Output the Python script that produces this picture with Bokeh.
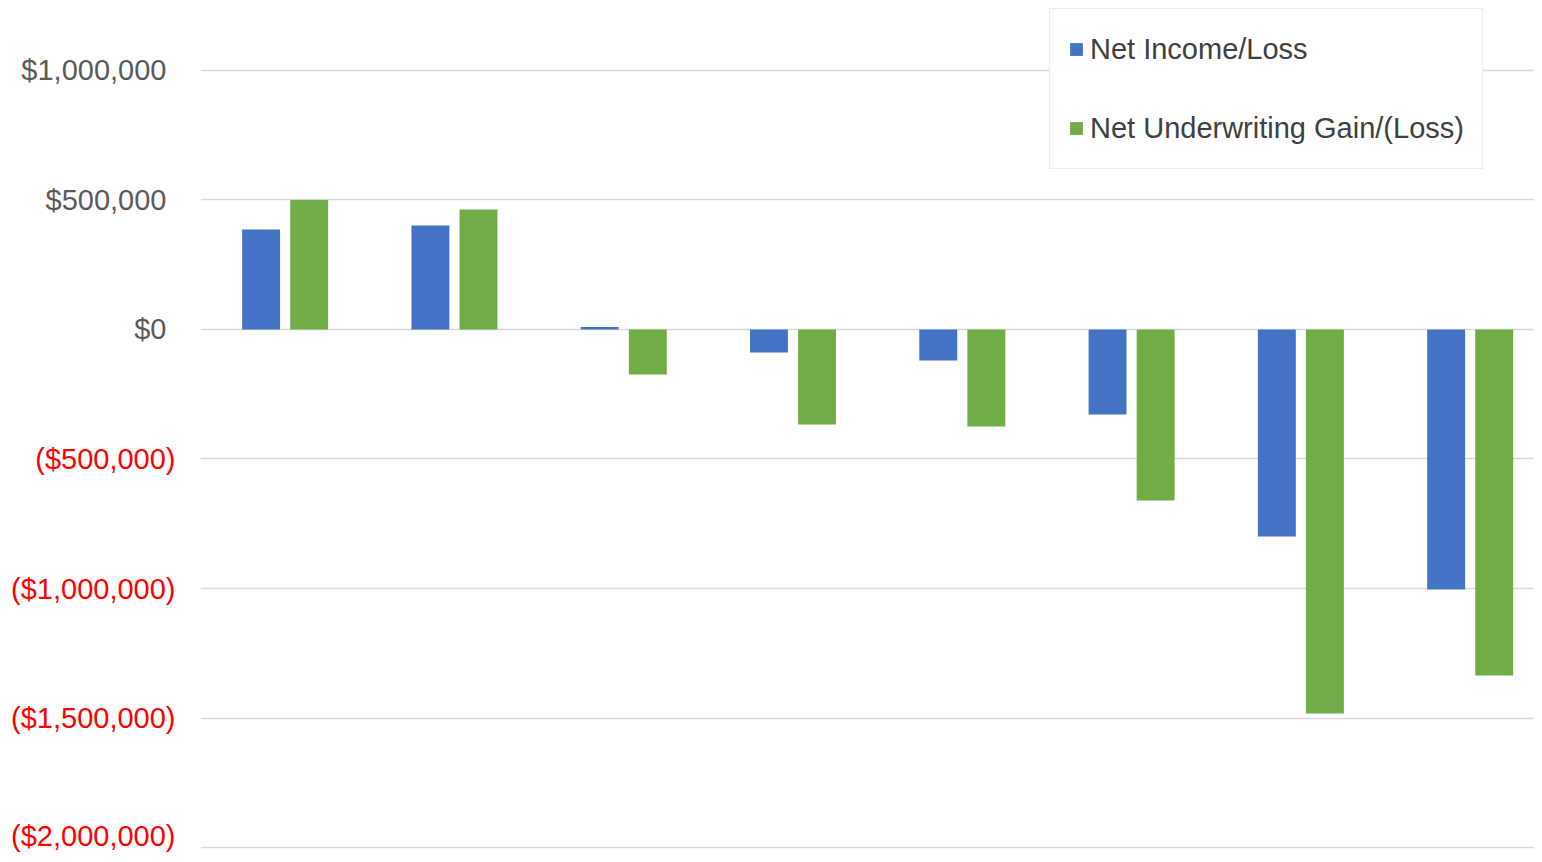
from bokeh.plotting import figure
from bokeh.layouts import row
from bokeh.models import (ColumnDataSource, Range1d, FixedTicker,
                          Legend, LegendItem)
from bokeh.transform import dodge
from bokeh.embed import file_html
from bokeh.resources import INLINE
from bokeh.core.properties import value

# ---- data ----
categories = ["1", "2", "3", "4", "5", "6", "7", "8"]
net_income = [386000, 402000, 10000, -89000, -120000, -328000, -799000, -1004000]
net_underwriting = [500000, 463000, -174000, -367000, -375000, -660000, -1483000, -1336000]
tick_values = [1000000, 500000, 0, -500000, -1000000, -1500000, -2000000]
tick_labels = ["$1,000,000", "$500,000", "$0", "($500,000)", "($1,000,000)",
               "($1,500,000)", "($2,000,000)"]
series_names = ["Net Income/Loss", "Net Underwriting Gain/(Loss)"]

FONT = "Liberation Sans"
FS = "29px"
H = 854
AXIS_W = 200

y_range = Range1d(-2027027, 1270270)

# ---- main chart ----
xpos = [i + 0.5 for i in range(len(categories))]
src = ColumnDataSource(dict(x=xpos, cat=categories, ni=net_income, nu=net_underwriting))

p = figure(width=1534 - AXIS_W, height=H,
           x_range=Range1d(0, 7.88), y_range=y_range,
           output_backend="svg", toolbar_location=None,
           min_border_left=0, min_border_right=0, min_border_top=0,
           min_border_bottom=0)
p.outline_line_color = None
p.background_fill_color = "white"
p.border_fill_color = "white"

r1 = p.vbar(x=dodge("x", -0.142), top="ni", width=0.224,
            source=src, fill_color="#4472C4", line_color=None)
r2 = p.vbar(x=dodge("x", 0.142), top="nu", width=0.224,
            source=src, fill_color="#70AD47", line_color=None)

p.xaxis.visible = False
p.xgrid.visible = False
p.yaxis.visible = False
p.ygrid.ticker = FixedTicker(ticks=tick_values)
p.ygrid.grid_line_color = "#d9d9d9"
p.ygrid.grid_line_width = 1.5

legend = Legend(items=[LegendItem(label=series_names[0], renderers=[r1]),
                       LegendItem(label=series_names[1], renderers=[r2])],
                location=(849, 685), orientation="vertical",
                label_text_font=FONT, label_text_font_size=FS,
                label_text_color="#404040",
                glyph_width=16, glyph_height=16, label_height=44,
                label_standoff=6, spacing=35, padding=18, margin=0,
                border_line_color="#d9d9d9", border_line_width=1.5,
                background_fill_color="white", background_fill_alpha=1.0)
p.add_layout(legend)

# ---- value-axis labels panel (grey positives, red parenthesised negatives) ----
ax = figure(width=AXIS_W, height=H, x_range=Range1d(0, AXIS_W), y_range=y_range,
            output_backend="svg", toolbar_location=None,
            min_border_left=0, min_border_right=0, min_border_top=0,
            min_border_bottom=0)
ax.outline_line_color = None
ax.axis.visible = False
ax.grid.visible = False
lab_src = ColumnDataSource(dict(
    y=tick_values,
    text=tick_labels,
    x=[AXIS_W - (34 if v >= 0 else 25) for v in tick_values],
    yoff=[-12 if v == min(tick_values) else 0 for v in tick_values],
    color=["#595959" if v >= 0 else "#FF0000" for v in tick_values],
))
ax.text(x="x", y="y", text="text", source=lab_src, y_offset="yoff",
        text_align="right", text_baseline="middle",
        text_color="color", text_font=value(FONT), text_font_size=value(FS))

layout = row(ax, p, spacing=0)
open("out.html", "w").write(file_html(layout, INLINE))
